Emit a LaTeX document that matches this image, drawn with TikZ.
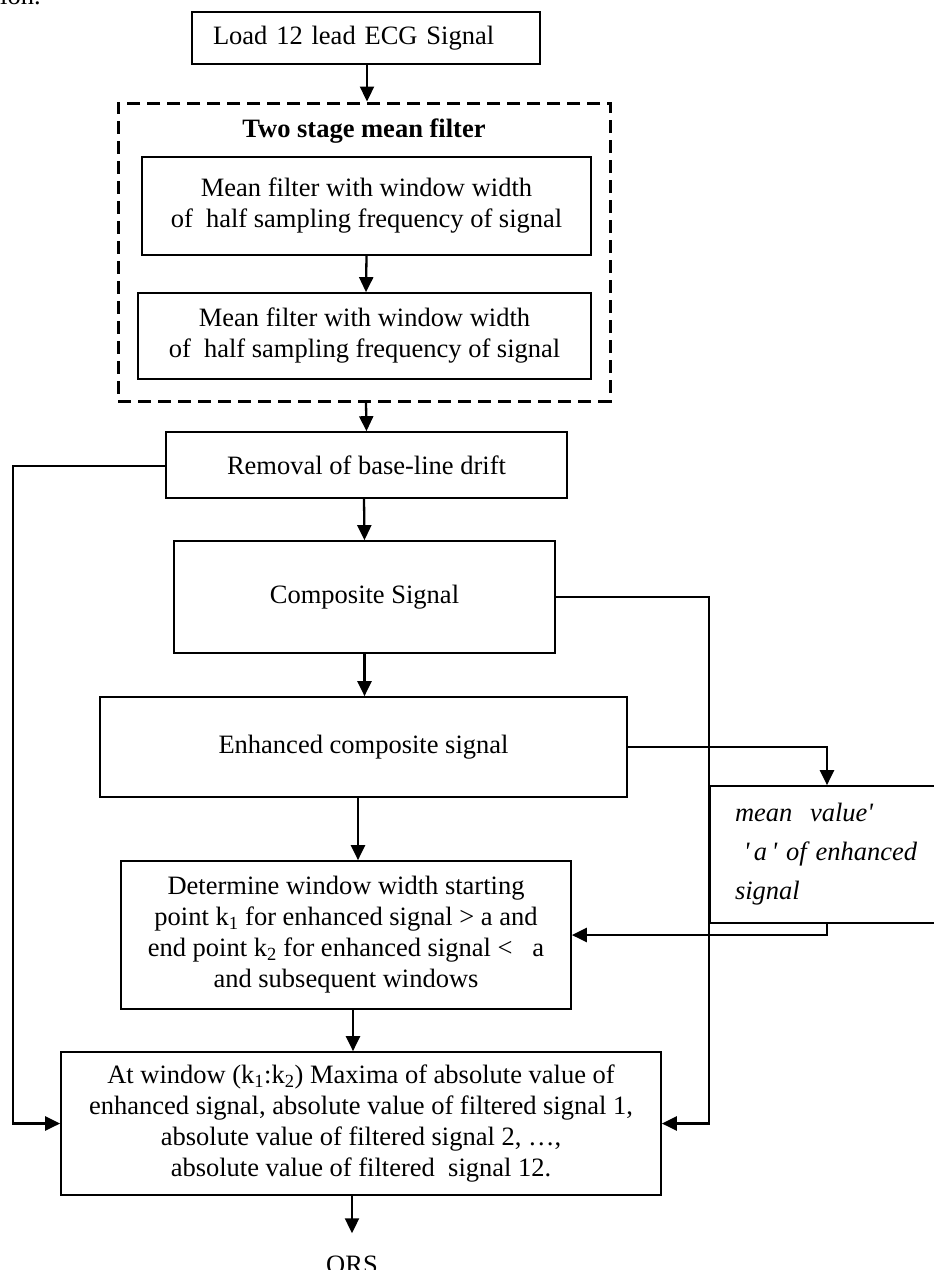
\documentclass[tikz,border=0pt]{standalone}
\usepackage{fontspec}
\setmainfont{Liberation Serif}
\usetikzlibrary{arrows.meta}
\begin{document}
\begin{tikzpicture}[x=1pt,y=-1pt,
  box/.style={draw, line width=1.7pt, inner sep=0pt, align=center, font=\fontsize{26.5}{31}\selectfont},
  dbox/.style={draw, line width=3pt, dash pattern=on 13pt off 7pt, inner sep=0pt},
  arr/.style={line width=2.3pt, -{Triangle[length=15pt,width=14pt]}},
  txt/.style={inner sep=0pt, font=\fontsize{26.5}{31}\selectfont}]
\useasboundingbox (0,0) rectangle (934,1270);

% fragment of page text at top
\node[txt, anchor=base west] (frag) at (0,4) {ion.};

% boxes
\node[box, minimum width=348pt, minimum height=52pt, align=left, text width=306pt, inner xsep=21pt] (load) at (366,38) {Load 12 lead ECG Signal};
\node[dbox, minimum width=492pt, minimum height=298pt] (dashed) at (364,252) {};
\node[txt] (title) at (364,131) {\textbf{Two stage mean filter}};
\node[box, minimum width=449pt, minimum height=98pt] (mf1) at (366.5,206) {Mean filter with window width\\of\ \ half sampling frequency of signal};
\node[box, minimum width=453pt, minimum height=86pt] (mf2) at (364.5,336) {Mean filter with window width\\of\ \ half sampling frequency of signal};
\node[box, minimum width=401pt, minimum height=66pt] (removal) at (366.5,465) {Removal of base-line drift};
\node[box, minimum width=381pt, minimum height=112pt] (composite) at (364.5,597) {Composite Signal};
\node[box, minimum width=527pt, minimum height=100pt] (enhanced) at (363.5,747) {Enhanced composite signal};
\node[box, minimum width=250pt, minimum height=137pt, align=left, text width=200pt, inner xsep=25pt, font=\fontsize{26.5}{39}\selectfont\itshape] (mean) at (835,854.5) {mean\ \ value\textquotesingle\\\ \textquotesingle\,a\,\textquotesingle\ of enhanced\\signal};
\node[box, minimum width=450pt, minimum height=148pt] (determine) at (346,935) {Determine window width starting\\point k\textsubscript{1} for enhanced signal > a and\\end point k\textsubscript{2} for enhanced signal <\ \ \ a\\and subsequent windows};
\node[box, minimum width=600pt, minimum height=143pt] (final) at (361,1123.5) {At window (k\textsubscript{1}:k\textsubscript{2}) Maxima of absolute value of\\enhanced signal, absolute value of filtered signal 1,\\absolute value of filtered signal 2, …,\\absolute value of filtered\ \ signal 12.};
\node[txt, anchor=base] (qrs) at (352,1273) {QRS};

% helper coordinates
\coordinate (lft) at (13,0);
\coordinate (rgt) at (709,0);
\coordinate (mv) at (827,0);

% vertical flow arrows
\draw[arr] ([xshift=1pt]load.south) -- ([xshift=3pt]dashed.north);
\draw[arr] (mf1.south) -- ([xshift=1.5pt]mf2.north);
\draw[arr] ([xshift=2pt]dashed.south) -- (removal.north);
\draw[arr] ([xshift=-2.5pt]removal.south) -- (composite.north);
\draw[arr] (composite.south) -- (composite.south |- enhanced.north);
\draw[arr] ([xshift=-5.5pt]enhanced.south) -- ([xshift=12pt]determine.north);
\draw[arr] ([xshift=7pt]determine.south) -- ([xshift=-8pt]final.north);
\draw[arr] ([xshift=-9pt]final.south) -- ([yshift=22pt]qrs.north);

% side connectors
\draw[arr] ([yshift=-1pt]removal.west) -- ([yshift=-1pt]removal.west -| lft) |- (final.west);
\draw[arr] (composite.east) -- (composite.east -| rgt) |- (final.east);
\draw[arr] (enhanced.east) -- (enhanced.east -| mv) -- (mv |- mean.north);
\draw[arr] (mv |- mean.south) -- (mv |- determine.east) -- (determine.east);
\end{tikzpicture}
\end{document}
